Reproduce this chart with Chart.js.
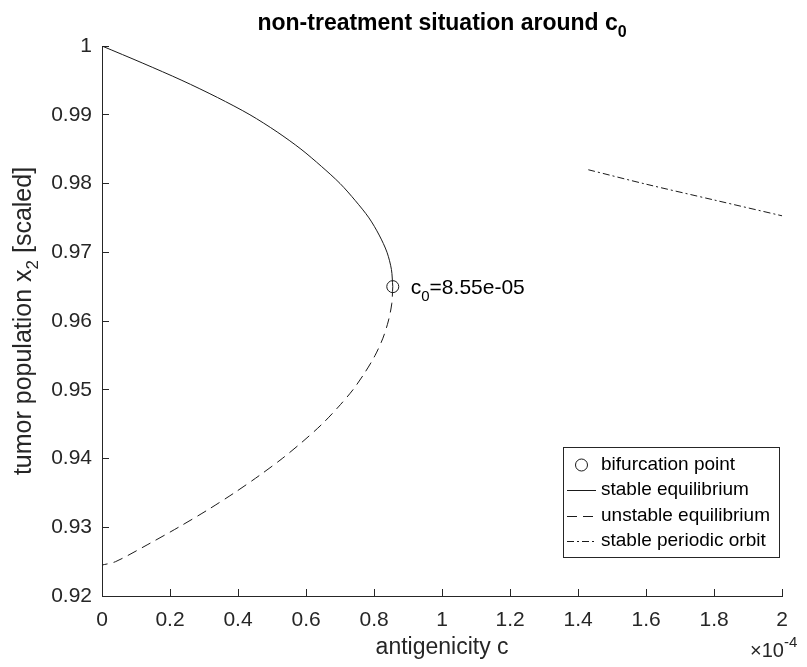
<!DOCTYPE html>
<html>
<head>
<meta charset="utf-8">
<script src="https://cdn.jsdelivr.net/npm/chart.js@4/dist/chart.umd.min.js"></script>
<style>
  html, body { margin: 0; padding: 0; background: #fff; }
  canvas { display: block; }
</style>
</head>
<body>
<canvas id="chart" width="807" height="667"></canvas>
<script>
// antigenicity c is stored in units of 1e-4; the axis carries the x10^-4 factor
const cStable = [0, 0.12, 0.235, 0.34, 0.435, 0.515, 0.585, 0.645, 0.70, 0.745, 0.785, 0.815, 0.838, 0.851, 0.855];
const x2Stable = [1.000, 0.9975, 0.995, 0.9925, 0.990, 0.9875, 0.985, 0.9825, 0.980, 0.9775, 0.975, 0.9725, 0.970, 0.9675, 0.965];

const cUnstable = [0.855, 0.852, 0.842, 0.826, 0.803, 0.773, 0.738, 0.695, 0.647, 0.591, 0.530, 0.462, 0.389, 0.31, 0.225, 0.135, 0.04, 0];
const x2Unstable = [0.965, 0.9625, 0.960, 0.9575, 0.955, 0.9525, 0.950, 0.9475, 0.945, 0.9425, 0.940, 0.9375, 0.935, 0.9325, 0.930, 0.9275, 0.925, 0.9245];

const cOrbit = [1.43, 1.6, 1.8, 2.0];
const x2Orbit = [0.9820, 0.9799, 0.9776, 0.9753];

const cBifurcation = 0.855;
const x2Bifurcation = 0.965;

const xTicks = [0, 0.2, 0.4, 0.6, 0.8, 1, 1.2, 1.4, 1.6, 1.8, 2];
const yTicks = [0.92, 0.93, 0.94, 0.95, 0.96, 0.97, 0.98, 0.99, 1];

const legendLabels = ['bifurcation point', 'stable equilibrium', 'unstable equilibrium', 'stable periodic orbit'];

const FONT = '"Liberation Sans", Arial, Helvetica, sans-serif';
const INK = '#262626';
const LINE = '#1a1a1a';

function pts(xs, ys) {
  return xs.map((x, i) => ({ x: x, y: ys[i] }));
}

// MATLAB-style exponent text, e.g. 8.55e-05
function matlabExp(v) {
  const [m, e] = v.toExponential(2).split('e');
  const sign = e[0] === '-' ? '-' : '+';
  const digits = e.replace(/^[-+]/, '').padStart(2, '0');
  return m + 'e' + sign + digits;
}

// text made of runs, each with its own font and vertical shift
function runsWidth(ctx, runs) {
  return runs.reduce((w, r) => { ctx.font = r.font; return w + ctx.measureText(r.text).width; }, 0);
}
function drawRuns(ctx, runs, x, y, align) {
  let cx = align === 'center' ? x - runsWidth(ctx, runs) / 2 : x;
  ctx.textAlign = 'left';
  runs.forEach(r => {
    ctx.font = r.font;
    ctx.fillText(r.text, cx, y + (r.dy || 0));
    cx += ctx.measureText(r.text).width;
  });
}

const textPlugin = {
  id: 'figureText',
  afterDraw(chart) {
    const ctx = chart.ctx;
    const area = chart.chartArea;
    const xs = chart.scales.x;
    const ys = chart.scales.y;
    const midX = (area.left + area.right) / 2;
    const midY = (area.top + area.bottom) / 2;
    ctx.save();
    ctx.textBaseline = 'alphabetic';

    // title
    ctx.fillStyle = '#000';
    drawRuns(ctx, [
      { text: 'non-treatment situation around c', font: 'bold 23px ' + FONT },
      { text: '0', font: 'bold 16px ' + FONT, dy: 7 }
    ], midX, 30, 'center');

    // x axis label and exponent
    ctx.fillStyle = INK;
    drawRuns(ctx, [{ text: 'antigenicity c', font: '23px ' + FONT }], midX, 654, 'center');
    drawRuns(ctx, [
      { text: '\u00d710', font: '20px ' + FONT },
      { text: '-4', font: '15px ' + FONT, dy: -10 }
    ], 750, 657, 'left');

    // y axis label, rotated
    ctx.save();
    ctx.translate(31, midY);
    ctx.rotate(-Math.PI / 2);
    drawRuns(ctx, [
      { text: 'tumor population x', font: '25px ' + FONT },
      { text: '2', font: '17px ' + FONT, dy: 7 },
      { text: ' [scaled]', font: '25px ' + FONT }
    ], 0, 0, 'center');
    ctx.restore();

    // bifurcation value next to its marker
    const bx = xs.getPixelForValue(cBifurcation);
    const by = ys.getPixelForValue(x2Bifurcation);
    ctx.fillStyle = '#000';
    drawRuns(ctx, [
      { text: 'c', font: '21px ' + FONT },
      { text: '0', font: '15px ' + FONT, dy: 7 },
      { text: '=' + matlabExp(cBifurcation * 1e-4), font: '21px ' + FONT }
    ], bx + 18, by + 7, 'left');

    // legend box
    const lx = 563.5, ly = 447.5, lw = 216, lh = 110;
    ctx.fillStyle = '#fff';
    ctx.fillRect(lx, ly, lw, lh);
    ctx.strokeStyle = INK;
    ctx.lineWidth = 1;
    ctx.setLineDash([]);
    ctx.strokeRect(lx, ly, lw, lh);

    const rows = [465, 490, 516, 541];
    const dashes = [null, [], [10, 6], [7, 3, 2, 3]];
    const s0 = 567, s1 = 596;
    ctx.strokeStyle = LINE;
    rows.forEach((ry, i) => {
      ctx.beginPath();
      if (i === 0) {
        ctx.setLineDash([]);
        ctx.arc((s0 + s1) / 2, ry, 6, 0, Math.PI * 2);
      } else {
        ctx.setLineDash(dashes[i]);
        ctx.moveTo(s0, ry + 0.5);
        ctx.lineTo(s1, ry + 0.5);
      }
      ctx.stroke();
    });
    ctx.setLineDash([]);
    ctx.fillStyle = '#000';
    ctx.font = '19px ' + FONT;
    ctx.textAlign = 'left';
    ctx.textBaseline = 'middle';
    legendLabels.forEach((t, i) => ctx.fillText(t, 601, rows[i]));
    ctx.restore();
  }
};

new Chart(document.getElementById('chart'), {
  type: 'scatter',
  data: {
    datasets: [
      {
        label: legendLabels[1],
        data: pts(cStable, x2Stable),
        showLine: true,
        borderColor: LINE,
        borderWidth: 1,
        pointRadius: 0,
        tension: 0.3
      },
      {
        label: legendLabels[2],
        data: pts(cUnstable, x2Unstable),
        showLine: true,
        borderColor: LINE,
        borderWidth: 1,
        borderDash: [10, 6],
        pointRadius: 0,
        tension: 0.3
      },
      {
        label: legendLabels[3],
        data: pts(cOrbit, x2Orbit),
        showLine: true,
        borderColor: LINE,
        borderWidth: 1,
        borderDash: [7, 3, 2, 3],
        pointRadius: 0,
        tension: 0.3
      },
      {
        label: legendLabels[0],
        data: [{ x: cBifurcation, y: x2Bifurcation }],
        pointStyle: 'circle',
        pointRadius: 6,
        borderColor: LINE,
        borderWidth: 1,
        backgroundColor: 'rgba(0,0,0,0)'
      }
    ]
  },
  options: {
    responsive: false,
    animation: false,
    devicePixelRatio: 1,
    layout: { padding: { top: 46, right: 9, left: 0, bottom: 0 } },
    plugins: {
      legend: { display: false },
      tooltip: { enabled: false },
      title: { display: false }
    },
    scales: {
      x: {
        type: 'linear',
        min: 0,
        max: 2,
        afterFit: s => { s.height = 71; },
        afterBuildTicks: s => { s.ticks = xTicks.map(v => ({ value: v })); },
        border: { display: true, color: INK, width: 1 },
        grid: { drawOnChartArea: false, drawTicks: true, tickLength: -7, color: INK },
        ticks: {
          padding: 19,
          color: INK,
          font: { family: FONT, size: 21 },
          maxRotation: 0,
          callback: v => String(Number(v.toFixed(1)))
        }
      },
      y: {
        type: 'linear',
        min: 0.92,
        max: 1,
        afterFit: s => { s.width = 102; },
        afterBuildTicks: s => { s.ticks = yTicks.map(v => ({ value: v })); },
        border: { display: true, color: INK, width: 1 },
        grid: { drawOnChartArea: false, drawTicks: true, tickLength: -7, color: INK },
        ticks: {
          padding: 17,
          color: INK,
          font: { family: FONT, size: 21 },
          callback: v => String(Number(v.toFixed(2)))
        }
      }
    }
  },
  plugins: [textPlugin]
});
</script>
</body>
</html>
